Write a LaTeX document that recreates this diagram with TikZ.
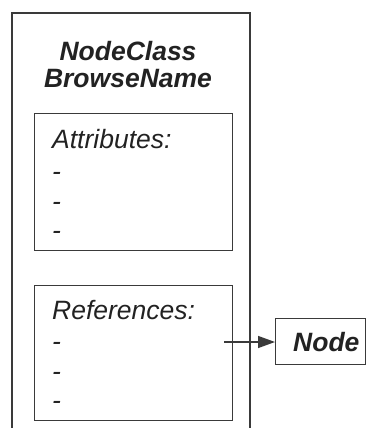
\documentclass[tikz,border=0pt]{standalone}
\usepackage{fontspec}
\setmainfont{Liberation Sans}
\usetikzlibrary{arrows.meta}
\definecolor{ln}{HTML}{3A3A3A}
\definecolor{tx}{HTML}{222222}
\tikzset{
  boxline/.style={draw=ln, line width=1.4pt},
  lbl/.style={anchor=base west, inner sep=0pt, text=tx, font=\fontsize{26.5}{28}\selectfont\itshape},
  blbl/.style={anchor=base, inner sep=0pt, text=tx, font=\fontsize{26.5}{28}\selectfont\bfseries\itshape, align=center},
  dashitem/.style={anchor=base west, inner sep=0pt, text=tx, font=\fontsize{26.5}{28}\selectfont\itshape}
}
\begin{document}
\begin{tikzpicture}[x=1pt,y=-1pt]
\useasboundingbox (0,0) rectangle (366,428);
% outer class box (open at bottom)
\coordinate (olb) at (12,430);
\coordinate (olt) at (12,13);
\coordinate (ort) at (250,13);
\coordinate (orb) at (250,430);
\draw[boxline] (olb) -- (olt) -- (ort) -- (orb);
% title
\node[blbl] (title1) at (128,60) {NodeClass};
\node[blbl] (title2) at (128,88) {BrowseName};
% attributes box
\node[boxline, rectangle, minimum width=198pt, minimum height=137pt, anchor=north west, inner sep=0pt] (attr) at (34,113) {};
\node[lbl] (attrT) at (52,148) {Attributes:};
\node[dashitem] (a1) at (52,180) {-};
\node[dashitem] (a2) at (52,210) {-};
\node[dashitem] (a3) at (52,239) {-};
% references box
\node[boxline, rectangle, minimum width=198pt, minimum height=135pt, anchor=north west, inner sep=0pt] (refs) at (34,285) {};
\node[lbl] (refT) at (52,319) {References:};
\node[dashitem] (r1) at (52,350) {-};
\node[dashitem] (r2) at (52,380) {-};
\node[dashitem] (r3) at (52,409) {-};
% target node
\node[boxline, rectangle, minimum width=90pt, minimum height=46pt, anchor=north west, inner sep=0pt] (tgt) at (275,318) {};
\node[anchor=base west, inner sep=0pt, text=tx, font=\fontsize{26.5}{28}\selectfont\bfseries\itshape] (tgtT) at (293,351) {Node};
\coordinate (src) at (224,342);
\draw[draw=ln, line width=1.4pt, -{Triangle[length=17pt,width=12pt]}] (src) -- (tgt.west |- src);
\end{tikzpicture}
\end{document}
